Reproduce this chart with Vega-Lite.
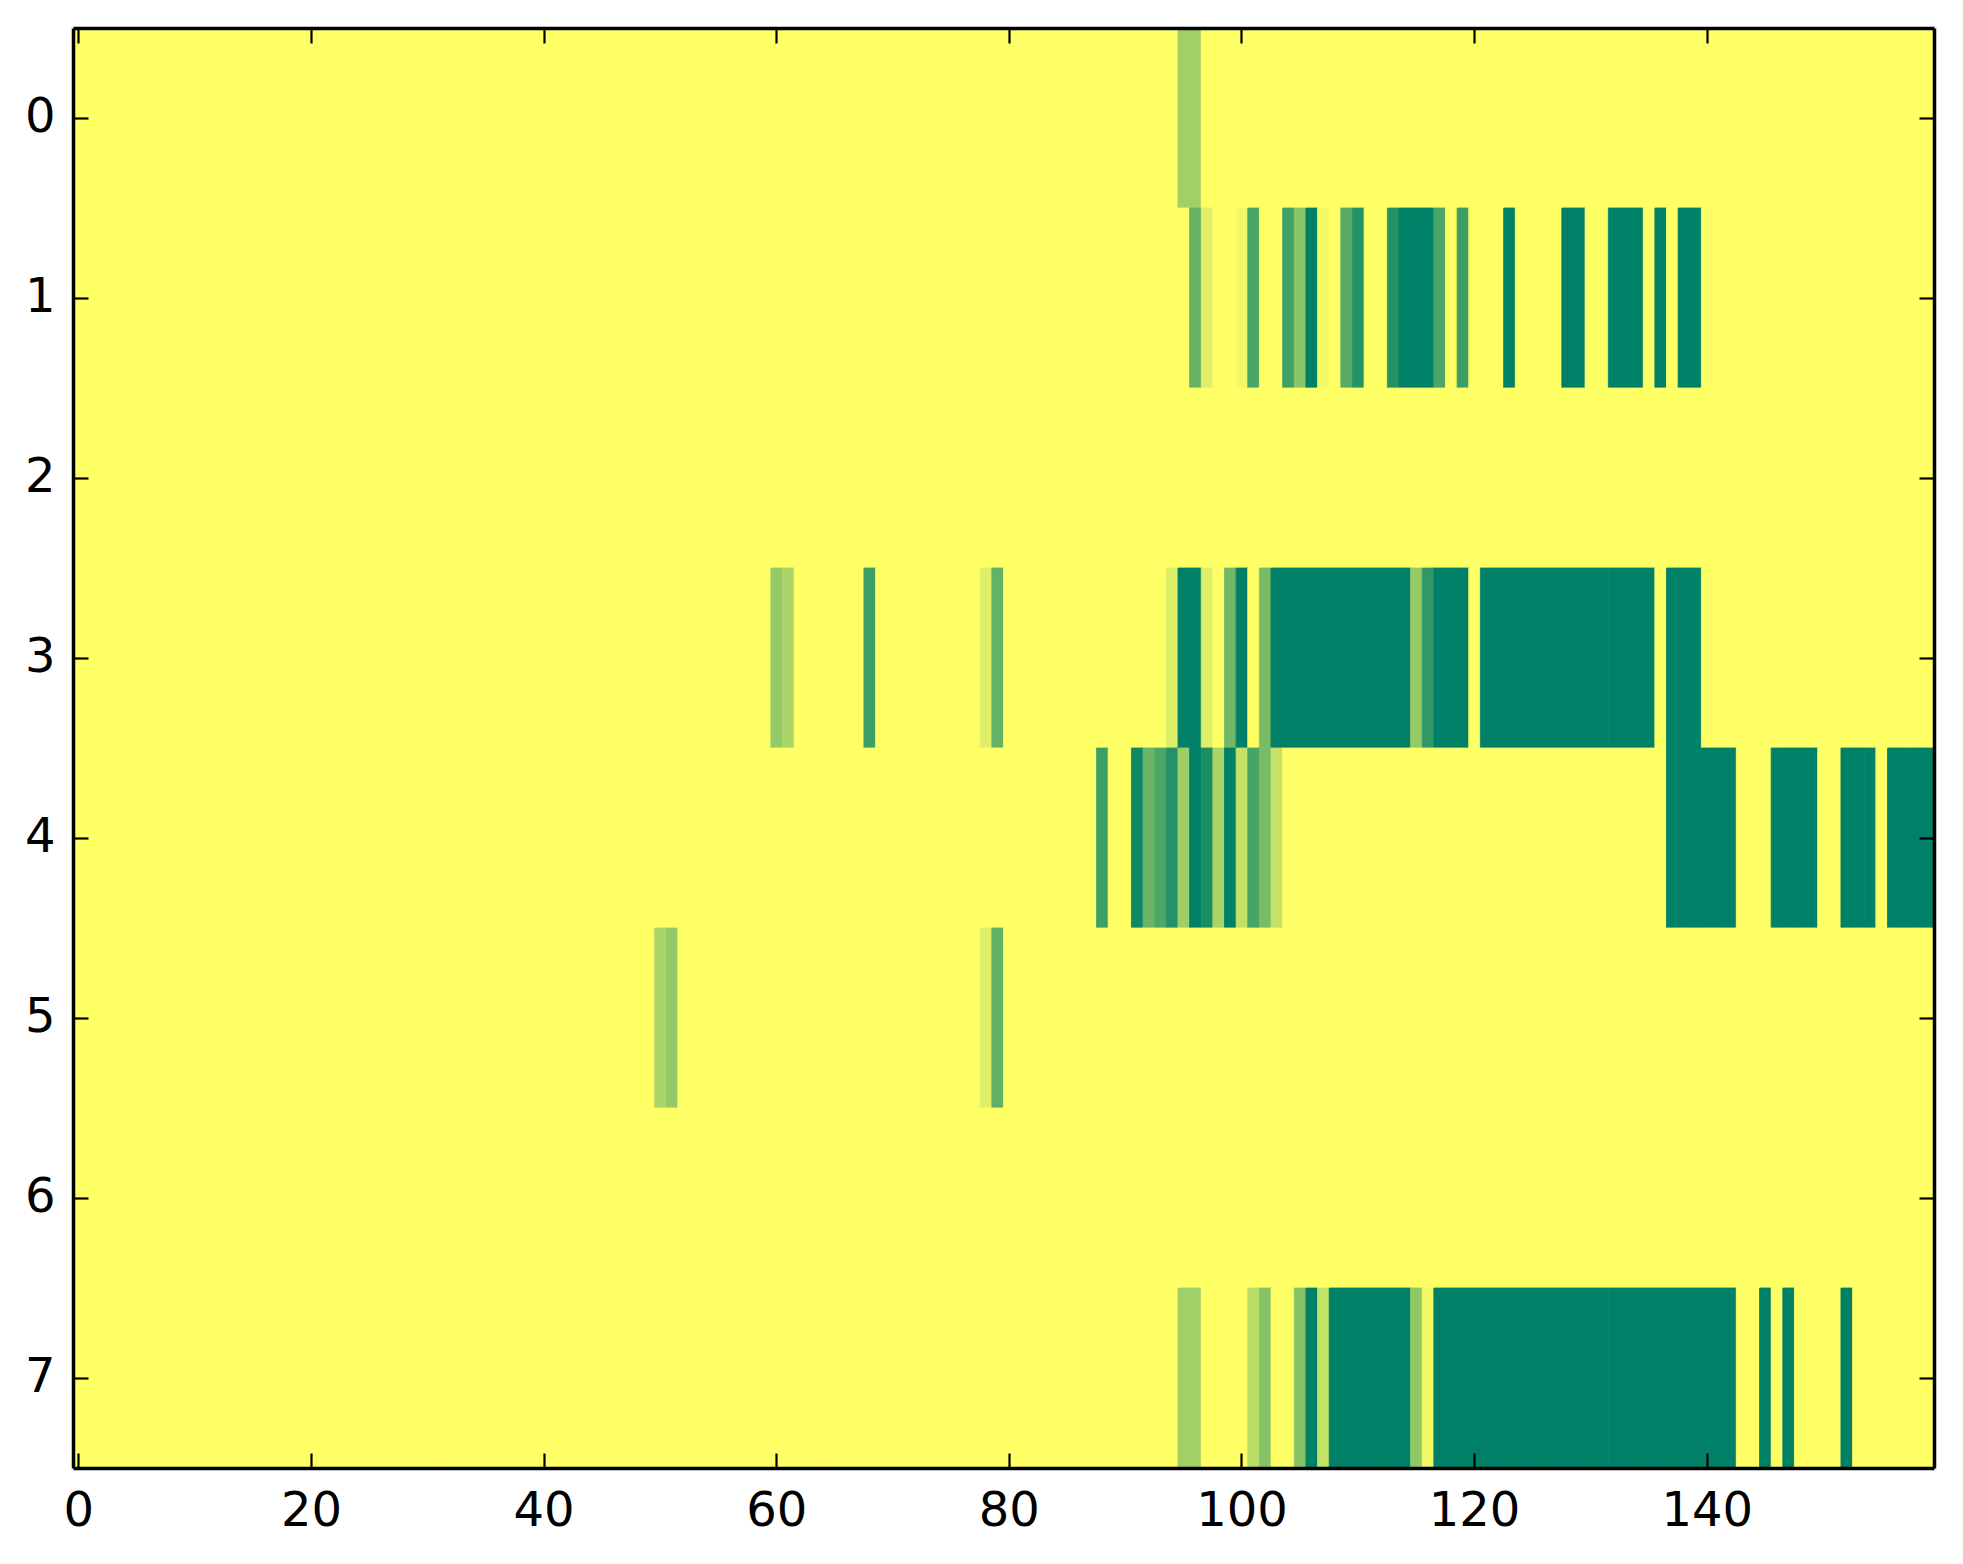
{
"$schema":"https://vega.github.io/schema/vega-lite/v6.json",
"width":1861,"height":1440,
"autosize":{"type":"none"},
"padding":{"left":73,"top":28,"right":29,"bottom":96},
"background":"white",
"config":{"font":"DejaVu Sans","view":{"stroke":null}},
"data":{"values":[
{"row":0,"col":0,"v":0},{"row":0,"col":1,"v":0},{"row":0,"col":2,"v":0},{"row":0,"col":3,"v":0},{"row":0,"col":4,"v":0},{"row":0,"col":5,"v":0},{"row":0,"col":6,"v":0},{"row":0,"col":7,"v":0},{"row":0,"col":8,"v":0},{"row":0,"col":9,"v":0},
{"row":0,"col":10,"v":0},{"row":0,"col":11,"v":0},{"row":0,"col":12,"v":0},{"row":0,"col":13,"v":0},{"row":0,"col":14,"v":0},{"row":0,"col":15,"v":0},{"row":0,"col":16,"v":0},{"row":0,"col":17,"v":0},{"row":0,"col":18,"v":0},{"row":0,"col":19,"v":0},
{"row":0,"col":20,"v":0},{"row":0,"col":21,"v":0},{"row":0,"col":22,"v":0},{"row":0,"col":23,"v":0},{"row":0,"col":24,"v":0},{"row":0,"col":25,"v":0},{"row":0,"col":26,"v":0},{"row":0,"col":27,"v":0},{"row":0,"col":28,"v":0},{"row":0,"col":29,"v":0},
{"row":0,"col":30,"v":0},{"row":0,"col":31,"v":0},{"row":0,"col":32,"v":0},{"row":0,"col":33,"v":0},{"row":0,"col":34,"v":0},{"row":0,"col":35,"v":0},{"row":0,"col":36,"v":0},{"row":0,"col":37,"v":0},{"row":0,"col":38,"v":0},{"row":0,"col":39,"v":0},
{"row":0,"col":40,"v":0},{"row":0,"col":41,"v":0},{"row":0,"col":42,"v":0},{"row":0,"col":43,"v":0},{"row":0,"col":44,"v":0},{"row":0,"col":45,"v":0},{"row":0,"col":46,"v":0},{"row":0,"col":47,"v":0},{"row":0,"col":48,"v":0},{"row":0,"col":49,"v":0},
{"row":0,"col":50,"v":0},{"row":0,"col":51,"v":0},{"row":0,"col":52,"v":0},{"row":0,"col":53,"v":0},{"row":0,"col":54,"v":0},{"row":0,"col":55,"v":0},{"row":0,"col":56,"v":0},{"row":0,"col":57,"v":0},{"row":0,"col":58,"v":0},{"row":0,"col":59,"v":0},
{"row":0,"col":60,"v":0},{"row":0,"col":61,"v":0},{"row":0,"col":62,"v":0},{"row":0,"col":63,"v":0},{"row":0,"col":64,"v":0},{"row":0,"col":65,"v":0},{"row":0,"col":66,"v":0},{"row":0,"col":67,"v":0},{"row":0,"col":68,"v":0},{"row":0,"col":69,"v":0},
{"row":0,"col":70,"v":0},{"row":0,"col":71,"v":0},{"row":0,"col":72,"v":0},{"row":0,"col":73,"v":0},{"row":0,"col":74,"v":0},{"row":0,"col":75,"v":0},{"row":0,"col":76,"v":0},{"row":0,"col":77,"v":0},{"row":0,"col":78,"v":0},{"row":0,"col":79,"v":0},
{"row":0,"col":80,"v":0},{"row":0,"col":81,"v":0},{"row":0,"col":82,"v":0},{"row":0,"col":83,"v":0},{"row":0,"col":84,"v":0},{"row":0,"col":85,"v":0},{"row":0,"col":86,"v":0},{"row":0,"col":87,"v":0},{"row":0,"col":88,"v":0},{"row":0,"col":89,"v":0},
{"row":0,"col":90,"v":0},{"row":0,"col":91,"v":0},{"row":0,"col":92,"v":0},{"row":0,"col":93,"v":0},{"row":0,"col":94,"v":0},{"row":0,"col":95,"v":0.37},{"row":0,"col":96,"v":0.37},{"row":0,"col":97,"v":0},{"row":0,"col":98,"v":0},{"row":0,"col":99,"v":0},
{"row":0,"col":100,"v":0},{"row":0,"col":101,"v":0},{"row":0,"col":102,"v":0},{"row":0,"col":103,"v":0},{"row":0,"col":104,"v":0},{"row":0,"col":105,"v":0},{"row":0,"col":106,"v":0},{"row":0,"col":107,"v":0},{"row":0,"col":108,"v":0},{"row":0,"col":109,"v":0},
{"row":0,"col":110,"v":0},{"row":0,"col":111,"v":0},{"row":0,"col":112,"v":0},{"row":0,"col":113,"v":0},{"row":0,"col":114,"v":0},{"row":0,"col":115,"v":0},{"row":0,"col":116,"v":0},{"row":0,"col":117,"v":0},{"row":0,"col":118,"v":0},{"row":0,"col":119,"v":0},
{"row":0,"col":120,"v":0},{"row":0,"col":121,"v":0},{"row":0,"col":122,"v":0},{"row":0,"col":123,"v":0},{"row":0,"col":124,"v":0},{"row":0,"col":125,"v":0},{"row":0,"col":126,"v":0},{"row":0,"col":127,"v":0},{"row":0,"col":128,"v":0},{"row":0,"col":129,"v":0},
{"row":0,"col":130,"v":0},{"row":0,"col":131,"v":0},{"row":0,"col":132,"v":0},{"row":0,"col":133,"v":0},{"row":0,"col":134,"v":0},{"row":0,"col":135,"v":0},{"row":0,"col":136,"v":0},{"row":0,"col":137,"v":0},{"row":0,"col":138,"v":0},{"row":0,"col":139,"v":0},
{"row":0,"col":140,"v":0},{"row":0,"col":141,"v":0},{"row":0,"col":142,"v":0},{"row":0,"col":143,"v":0},{"row":0,"col":144,"v":0},{"row":0,"col":145,"v":0},{"row":0,"col":146,"v":0},{"row":0,"col":147,"v":0},{"row":0,"col":148,"v":0},{"row":0,"col":149,"v":0},
{"row":0,"col":150,"v":0},{"row":0,"col":151,"v":0},{"row":0,"col":152,"v":0},{"row":0,"col":153,"v":0},{"row":0,"col":154,"v":0},{"row":0,"col":155,"v":0},{"row":0,"col":156,"v":0},{"row":0,"col":157,"v":0},{"row":0,"col":158,"v":0},{"row":0,"col":159,"v":0},
{"row":1,"col":0,"v":0},{"row":1,"col":1,"v":0},{"row":1,"col":2,"v":0},{"row":1,"col":3,"v":0},{"row":1,"col":4,"v":0},{"row":1,"col":5,"v":0},{"row":1,"col":6,"v":0},{"row":1,"col":7,"v":0},{"row":1,"col":8,"v":0},{"row":1,"col":9,"v":0},
{"row":1,"col":10,"v":0},{"row":1,"col":11,"v":0},{"row":1,"col":12,"v":0},{"row":1,"col":13,"v":0},{"row":1,"col":14,"v":0},{"row":1,"col":15,"v":0},{"row":1,"col":16,"v":0},{"row":1,"col":17,"v":0},{"row":1,"col":18,"v":0},{"row":1,"col":19,"v":0},
{"row":1,"col":20,"v":0},{"row":1,"col":21,"v":0},{"row":1,"col":22,"v":0},{"row":1,"col":23,"v":0},{"row":1,"col":24,"v":0},{"row":1,"col":25,"v":0},{"row":1,"col":26,"v":0},{"row":1,"col":27,"v":0},{"row":1,"col":28,"v":0},{"row":1,"col":29,"v":0},
{"row":1,"col":30,"v":0},{"row":1,"col":31,"v":0},{"row":1,"col":32,"v":0},{"row":1,"col":33,"v":0},{"row":1,"col":34,"v":0},{"row":1,"col":35,"v":0},{"row":1,"col":36,"v":0},{"row":1,"col":37,"v":0},{"row":1,"col":38,"v":0},{"row":1,"col":39,"v":0},
{"row":1,"col":40,"v":0},{"row":1,"col":41,"v":0},{"row":1,"col":42,"v":0},{"row":1,"col":43,"v":0},{"row":1,"col":44,"v":0},{"row":1,"col":45,"v":0},{"row":1,"col":46,"v":0},{"row":1,"col":47,"v":0},{"row":1,"col":48,"v":0},{"row":1,"col":49,"v":0},
{"row":1,"col":50,"v":0},{"row":1,"col":51,"v":0},{"row":1,"col":52,"v":0},{"row":1,"col":53,"v":0},{"row":1,"col":54,"v":0},{"row":1,"col":55,"v":0},{"row":1,"col":56,"v":0},{"row":1,"col":57,"v":0},{"row":1,"col":58,"v":0},{"row":1,"col":59,"v":0},
{"row":1,"col":60,"v":0},{"row":1,"col":61,"v":0},{"row":1,"col":62,"v":0},{"row":1,"col":63,"v":0},{"row":1,"col":64,"v":0},{"row":1,"col":65,"v":0},{"row":1,"col":66,"v":0},{"row":1,"col":67,"v":0},{"row":1,"col":68,"v":0},{"row":1,"col":69,"v":0},
{"row":1,"col":70,"v":0},{"row":1,"col":71,"v":0},{"row":1,"col":72,"v":0},{"row":1,"col":73,"v":0},{"row":1,"col":74,"v":0},{"row":1,"col":75,"v":0},{"row":1,"col":76,"v":0},{"row":1,"col":77,"v":0},{"row":1,"col":78,"v":0},{"row":1,"col":79,"v":0},
{"row":1,"col":80,"v":0},{"row":1,"col":81,"v":0},{"row":1,"col":82,"v":0},{"row":1,"col":83,"v":0},{"row":1,"col":84,"v":0},{"row":1,"col":85,"v":0},{"row":1,"col":86,"v":0},{"row":1,"col":87,"v":0},{"row":1,"col":88,"v":0},{"row":1,"col":89,"v":0},
{"row":1,"col":90,"v":0},{"row":1,"col":91,"v":0},{"row":1,"col":92,"v":0},{"row":1,"col":93,"v":0},{"row":1,"col":94,"v":0},{"row":1,"col":95,"v":0},{"row":1,"col":96,"v":0.61},{"row":1,"col":97,"v":0.13},{"row":1,"col":98,"v":0},{"row":1,"col":99,"v":0},
{"row":1,"col":100,"v":0.05},{"row":1,"col":101,"v":0.71},{"row":1,"col":102,"v":0},{"row":1,"col":103,"v":0},{"row":1,"col":104,"v":0.75},{"row":1,"col":105,"v":0.46},{"row":1,"col":106,"v":1},{"row":1,"col":107,"v":0.05},{"row":1,"col":108,"v":0},{"row":1,"col":109,"v":0.66},
{"row":1,"col":110,"v":0.85},{"row":1,"col":111,"v":0},{"row":1,"col":112,"v":0},{"row":1,"col":113,"v":0.86},{"row":1,"col":114,"v":1},{"row":1,"col":115,"v":1},{"row":1,"col":116,"v":1},{"row":1,"col":117,"v":0.71},{"row":1,"col":118,"v":0},{"row":1,"col":119,"v":0.76},
{"row":1,"col":120,"v":0},{"row":1,"col":121,"v":0},{"row":1,"col":122,"v":0},{"row":1,"col":123,"v":1},{"row":1,"col":124,"v":0},{"row":1,"col":125,"v":0},{"row":1,"col":126,"v":0},{"row":1,"col":127,"v":0},{"row":1,"col":128,"v":1},{"row":1,"col":129,"v":1},
{"row":1,"col":130,"v":0},{"row":1,"col":131,"v":0},{"row":1,"col":132,"v":1},{"row":1,"col":133,"v":1},{"row":1,"col":134,"v":1},{"row":1,"col":135,"v":0},{"row":1,"col":136,"v":1},{"row":1,"col":137,"v":0},{"row":1,"col":138,"v":1},{"row":1,"col":139,"v":1},
{"row":1,"col":140,"v":0},{"row":1,"col":141,"v":0},{"row":1,"col":142,"v":0},{"row":1,"col":143,"v":0},{"row":1,"col":144,"v":0},{"row":1,"col":145,"v":0},{"row":1,"col":146,"v":0},{"row":1,"col":147,"v":0},{"row":1,"col":148,"v":0},{"row":1,"col":149,"v":0},
{"row":1,"col":150,"v":0},{"row":1,"col":151,"v":0},{"row":1,"col":152,"v":0},{"row":1,"col":153,"v":0},{"row":1,"col":154,"v":0},{"row":1,"col":155,"v":0},{"row":1,"col":156,"v":0},{"row":1,"col":157,"v":0},{"row":1,"col":158,"v":0},{"row":1,"col":159,"v":0},
{"row":2,"col":0,"v":0},{"row":2,"col":1,"v":0},{"row":2,"col":2,"v":0},{"row":2,"col":3,"v":0},{"row":2,"col":4,"v":0},{"row":2,"col":5,"v":0},{"row":2,"col":6,"v":0},{"row":2,"col":7,"v":0},{"row":2,"col":8,"v":0},{"row":2,"col":9,"v":0},
{"row":2,"col":10,"v":0},{"row":2,"col":11,"v":0},{"row":2,"col":12,"v":0},{"row":2,"col":13,"v":0},{"row":2,"col":14,"v":0},{"row":2,"col":15,"v":0},{"row":2,"col":16,"v":0},{"row":2,"col":17,"v":0},{"row":2,"col":18,"v":0},{"row":2,"col":19,"v":0},
{"row":2,"col":20,"v":0},{"row":2,"col":21,"v":0},{"row":2,"col":22,"v":0},{"row":2,"col":23,"v":0},{"row":2,"col":24,"v":0},{"row":2,"col":25,"v":0},{"row":2,"col":26,"v":0},{"row":2,"col":27,"v":0},{"row":2,"col":28,"v":0},{"row":2,"col":29,"v":0},
{"row":2,"col":30,"v":0},{"row":2,"col":31,"v":0},{"row":2,"col":32,"v":0},{"row":2,"col":33,"v":0},{"row":2,"col":34,"v":0},{"row":2,"col":35,"v":0},{"row":2,"col":36,"v":0},{"row":2,"col":37,"v":0},{"row":2,"col":38,"v":0},{"row":2,"col":39,"v":0},
{"row":2,"col":40,"v":0},{"row":2,"col":41,"v":0},{"row":2,"col":42,"v":0},{"row":2,"col":43,"v":0},{"row":2,"col":44,"v":0},{"row":2,"col":45,"v":0},{"row":2,"col":46,"v":0},{"row":2,"col":47,"v":0},{"row":2,"col":48,"v":0},{"row":2,"col":49,"v":0},
{"row":2,"col":50,"v":0},{"row":2,"col":51,"v":0},{"row":2,"col":52,"v":0},{"row":2,"col":53,"v":0},{"row":2,"col":54,"v":0},{"row":2,"col":55,"v":0},{"row":2,"col":56,"v":0},{"row":2,"col":57,"v":0},{"row":2,"col":58,"v":0},{"row":2,"col":59,"v":0},
{"row":2,"col":60,"v":0},{"row":2,"col":61,"v":0},{"row":2,"col":62,"v":0},{"row":2,"col":63,"v":0},{"row":2,"col":64,"v":0},{"row":2,"col":65,"v":0},{"row":2,"col":66,"v":0},{"row":2,"col":67,"v":0},{"row":2,"col":68,"v":0},{"row":2,"col":69,"v":0},
{"row":2,"col":70,"v":0},{"row":2,"col":71,"v":0},{"row":2,"col":72,"v":0},{"row":2,"col":73,"v":0},{"row":2,"col":74,"v":0},{"row":2,"col":75,"v":0},{"row":2,"col":76,"v":0},{"row":2,"col":77,"v":0},{"row":2,"col":78,"v":0},{"row":2,"col":79,"v":0},
{"row":2,"col":80,"v":0},{"row":2,"col":81,"v":0},{"row":2,"col":82,"v":0},{"row":2,"col":83,"v":0},{"row":2,"col":84,"v":0},{"row":2,"col":85,"v":0},{"row":2,"col":86,"v":0},{"row":2,"col":87,"v":0},{"row":2,"col":88,"v":0},{"row":2,"col":89,"v":0},
{"row":2,"col":90,"v":0},{"row":2,"col":91,"v":0},{"row":2,"col":92,"v":0},{"row":2,"col":93,"v":0},{"row":2,"col":94,"v":0},{"row":2,"col":95,"v":0},{"row":2,"col":96,"v":0},{"row":2,"col":97,"v":0},{"row":2,"col":98,"v":0},{"row":2,"col":99,"v":0},
{"row":2,"col":100,"v":0},{"row":2,"col":101,"v":0},{"row":2,"col":102,"v":0},{"row":2,"col":103,"v":0},{"row":2,"col":104,"v":0},{"row":2,"col":105,"v":0},{"row":2,"col":106,"v":0},{"row":2,"col":107,"v":0},{"row":2,"col":108,"v":0},{"row":2,"col":109,"v":0},
{"row":2,"col":110,"v":0},{"row":2,"col":111,"v":0},{"row":2,"col":112,"v":0},{"row":2,"col":113,"v":0},{"row":2,"col":114,"v":0},{"row":2,"col":115,"v":0},{"row":2,"col":116,"v":0},{"row":2,"col":117,"v":0},{"row":2,"col":118,"v":0},{"row":2,"col":119,"v":0},
{"row":2,"col":120,"v":0},{"row":2,"col":121,"v":0},{"row":2,"col":122,"v":0},{"row":2,"col":123,"v":0},{"row":2,"col":124,"v":0},{"row":2,"col":125,"v":0},{"row":2,"col":126,"v":0},{"row":2,"col":127,"v":0},{"row":2,"col":128,"v":0},{"row":2,"col":129,"v":0},
{"row":2,"col":130,"v":0},{"row":2,"col":131,"v":0},{"row":2,"col":132,"v":0},{"row":2,"col":133,"v":0},{"row":2,"col":134,"v":0},{"row":2,"col":135,"v":0},{"row":2,"col":136,"v":0},{"row":2,"col":137,"v":0},{"row":2,"col":138,"v":0},{"row":2,"col":139,"v":0},
{"row":2,"col":140,"v":0},{"row":2,"col":141,"v":0},{"row":2,"col":142,"v":0},{"row":2,"col":143,"v":0},{"row":2,"col":144,"v":0},{"row":2,"col":145,"v":0},{"row":2,"col":146,"v":0},{"row":2,"col":147,"v":0},{"row":2,"col":148,"v":0},{"row":2,"col":149,"v":0},
{"row":2,"col":150,"v":0},{"row":2,"col":151,"v":0},{"row":2,"col":152,"v":0},{"row":2,"col":153,"v":0},{"row":2,"col":154,"v":0},{"row":2,"col":155,"v":0},{"row":2,"col":156,"v":0},{"row":2,"col":157,"v":0},{"row":2,"col":158,"v":0},{"row":2,"col":159,"v":0},
{"row":3,"col":0,"v":0},{"row":3,"col":1,"v":0},{"row":3,"col":2,"v":0},{"row":3,"col":3,"v":0},{"row":3,"col":4,"v":0},{"row":3,"col":5,"v":0},{"row":3,"col":6,"v":0},{"row":3,"col":7,"v":0},{"row":3,"col":8,"v":0},{"row":3,"col":9,"v":0},
{"row":3,"col":10,"v":0},{"row":3,"col":11,"v":0},{"row":3,"col":12,"v":0},{"row":3,"col":13,"v":0},{"row":3,"col":14,"v":0},{"row":3,"col":15,"v":0},{"row":3,"col":16,"v":0},{"row":3,"col":17,"v":0},{"row":3,"col":18,"v":0},{"row":3,"col":19,"v":0},
{"row":3,"col":20,"v":0},{"row":3,"col":21,"v":0},{"row":3,"col":22,"v":0},{"row":3,"col":23,"v":0},{"row":3,"col":24,"v":0},{"row":3,"col":25,"v":0},{"row":3,"col":26,"v":0},{"row":3,"col":27,"v":0},{"row":3,"col":28,"v":0},{"row":3,"col":29,"v":0},
{"row":3,"col":30,"v":0},{"row":3,"col":31,"v":0},{"row":3,"col":32,"v":0},{"row":3,"col":33,"v":0},{"row":3,"col":34,"v":0},{"row":3,"col":35,"v":0},{"row":3,"col":36,"v":0},{"row":3,"col":37,"v":0},{"row":3,"col":38,"v":0},{"row":3,"col":39,"v":0},
{"row":3,"col":40,"v":0},{"row":3,"col":41,"v":0},{"row":3,"col":42,"v":0},{"row":3,"col":43,"v":0},{"row":3,"col":44,"v":0},{"row":3,"col":45,"v":0},{"row":3,"col":46,"v":0},{"row":3,"col":47,"v":0},{"row":3,"col":48,"v":0},{"row":3,"col":49,"v":0},
{"row":3,"col":50,"v":0},{"row":3,"col":51,"v":0},{"row":3,"col":52,"v":0},{"row":3,"col":53,"v":0},{"row":3,"col":54,"v":0},{"row":3,"col":55,"v":0},{"row":3,"col":56,"v":0},{"row":3,"col":57,"v":0},{"row":3,"col":58,"v":0},{"row":3,"col":59,"v":0},
{"row":3,"col":60,"v":0.42},{"row":3,"col":61,"v":0.33},{"row":3,"col":62,"v":0},{"row":3,"col":63,"v":0},{"row":3,"col":64,"v":0},{"row":3,"col":65,"v":0},{"row":3,"col":66,"v":0},{"row":3,"col":67,"v":0},{"row":3,"col":68,"v":0.76},{"row":3,"col":69,"v":0},
{"row":3,"col":70,"v":0},{"row":3,"col":71,"v":0},{"row":3,"col":72,"v":0},{"row":3,"col":73,"v":0},{"row":3,"col":74,"v":0},{"row":3,"col":75,"v":0},{"row":3,"col":76,"v":0},{"row":3,"col":77,"v":0},{"row":3,"col":78,"v":0.13},{"row":3,"col":79,"v":0.61},
{"row":3,"col":80,"v":0},{"row":3,"col":81,"v":0},{"row":3,"col":82,"v":0},{"row":3,"col":83,"v":0},{"row":3,"col":84,"v":0},{"row":3,"col":85,"v":0},{"row":3,"col":86,"v":0},{"row":3,"col":87,"v":0},{"row":3,"col":88,"v":0},{"row":3,"col":89,"v":0},
{"row":3,"col":90,"v":0},{"row":3,"col":91,"v":0},{"row":3,"col":92,"v":0},{"row":3,"col":93,"v":0},{"row":3,"col":94,"v":0.13},{"row":3,"col":95,"v":1},{"row":3,"col":96,"v":1},{"row":3,"col":97,"v":0.13},{"row":3,"col":98,"v":0},{"row":3,"col":99,"v":0.56},
{"row":3,"col":100,"v":1},{"row":3,"col":101,"v":0},{"row":3,"col":102,"v":0.53},{"row":3,"col":103,"v":1},{"row":3,"col":104,"v":1},{"row":3,"col":105,"v":1},{"row":3,"col":106,"v":1},{"row":3,"col":107,"v":1},{"row":3,"col":108,"v":1},{"row":3,"col":109,"v":1},
{"row":3,"col":110,"v":1},{"row":3,"col":111,"v":1},{"row":3,"col":112,"v":1},{"row":3,"col":113,"v":1},{"row":3,"col":114,"v":1},{"row":3,"col":115,"v":0.42},{"row":3,"col":116,"v":0.81},{"row":3,"col":117,"v":1},{"row":3,"col":118,"v":1},{"row":3,"col":119,"v":1},
{"row":3,"col":120,"v":0},{"row":3,"col":121,"v":1},{"row":3,"col":122,"v":1},{"row":3,"col":123,"v":1},{"row":3,"col":124,"v":1},{"row":3,"col":125,"v":1},{"row":3,"col":126,"v":1},{"row":3,"col":127,"v":1},{"row":3,"col":128,"v":1},{"row":3,"col":129,"v":1},
{"row":3,"col":130,"v":1},{"row":3,"col":131,"v":1},{"row":3,"col":132,"v":1},{"row":3,"col":133,"v":1},{"row":3,"col":134,"v":1},{"row":3,"col":135,"v":1},{"row":3,"col":136,"v":0},{"row":3,"col":137,"v":1},{"row":3,"col":138,"v":1},{"row":3,"col":139,"v":1},
{"row":3,"col":140,"v":0},{"row":3,"col":141,"v":0},{"row":3,"col":142,"v":0},{"row":3,"col":143,"v":0},{"row":3,"col":144,"v":0},{"row":3,"col":145,"v":0},{"row":3,"col":146,"v":0},{"row":3,"col":147,"v":0},{"row":3,"col":148,"v":0},{"row":3,"col":149,"v":0},
{"row":3,"col":150,"v":0},{"row":3,"col":151,"v":0},{"row":3,"col":152,"v":0},{"row":3,"col":153,"v":0},{"row":3,"col":154,"v":0},{"row":3,"col":155,"v":0},{"row":3,"col":156,"v":0},{"row":3,"col":157,"v":0},{"row":3,"col":158,"v":0},{"row":3,"col":159,"v":0},
{"row":4,"col":0,"v":0},{"row":4,"col":1,"v":0},{"row":4,"col":2,"v":0},{"row":4,"col":3,"v":0},{"row":4,"col":4,"v":0},{"row":4,"col":5,"v":0},{"row":4,"col":6,"v":0},{"row":4,"col":7,"v":0},{"row":4,"col":8,"v":0},{"row":4,"col":9,"v":0},
{"row":4,"col":10,"v":0},{"row":4,"col":11,"v":0},{"row":4,"col":12,"v":0},{"row":4,"col":13,"v":0},{"row":4,"col":14,"v":0},{"row":4,"col":15,"v":0},{"row":4,"col":16,"v":0},{"row":4,"col":17,"v":0},{"row":4,"col":18,"v":0},{"row":4,"col":19,"v":0},
{"row":4,"col":20,"v":0},{"row":4,"col":21,"v":0},{"row":4,"col":22,"v":0},{"row":4,"col":23,"v":0},{"row":4,"col":24,"v":0},{"row":4,"col":25,"v":0},{"row":4,"col":26,"v":0},{"row":4,"col":27,"v":0},{"row":4,"col":28,"v":0},{"row":4,"col":29,"v":0},
{"row":4,"col":30,"v":0},{"row":4,"col":31,"v":0},{"row":4,"col":32,"v":0},{"row":4,"col":33,"v":0},{"row":4,"col":34,"v":0},{"row":4,"col":35,"v":0},{"row":4,"col":36,"v":0},{"row":4,"col":37,"v":0},{"row":4,"col":38,"v":0},{"row":4,"col":39,"v":0},
{"row":4,"col":40,"v":0},{"row":4,"col":41,"v":0},{"row":4,"col":42,"v":0},{"row":4,"col":43,"v":0},{"row":4,"col":44,"v":0},{"row":4,"col":45,"v":0},{"row":4,"col":46,"v":0},{"row":4,"col":47,"v":0},{"row":4,"col":48,"v":0},{"row":4,"col":49,"v":0},
{"row":4,"col":50,"v":0},{"row":4,"col":51,"v":0},{"row":4,"col":52,"v":0},{"row":4,"col":53,"v":0},{"row":4,"col":54,"v":0},{"row":4,"col":55,"v":0},{"row":4,"col":56,"v":0},{"row":4,"col":57,"v":0},{"row":4,"col":58,"v":0},{"row":4,"col":59,"v":0},
{"row":4,"col":60,"v":0},{"row":4,"col":61,"v":0},{"row":4,"col":62,"v":0},{"row":4,"col":63,"v":0},{"row":4,"col":64,"v":0},{"row":4,"col":65,"v":0},{"row":4,"col":66,"v":0},{"row":4,"col":67,"v":0},{"row":4,"col":68,"v":0},{"row":4,"col":69,"v":0},
{"row":4,"col":70,"v":0},{"row":4,"col":71,"v":0},{"row":4,"col":72,"v":0},{"row":4,"col":73,"v":0},{"row":4,"col":74,"v":0},{"row":4,"col":75,"v":0},{"row":4,"col":76,"v":0},{"row":4,"col":77,"v":0},{"row":4,"col":78,"v":0},{"row":4,"col":79,"v":0},
{"row":4,"col":80,"v":0},{"row":4,"col":81,"v":0},{"row":4,"col":82,"v":0},{"row":4,"col":83,"v":0},{"row":4,"col":84,"v":0},{"row":4,"col":85,"v":0},{"row":4,"col":86,"v":0},{"row":4,"col":87,"v":0},{"row":4,"col":88,"v":0.76},{"row":4,"col":89,"v":0},
{"row":4,"col":90,"v":0},{"row":4,"col":91,"v":0.94},{"row":4,"col":92,"v":0.58},{"row":4,"col":93,"v":0.69},{"row":4,"col":94,"v":0.86},{"row":4,"col":95,"v":0.38},{"row":4,"col":96,"v":1},{"row":4,"col":97,"v":0.9},{"row":4,"col":98,"v":0.33},{"row":4,"col":99,"v":1},
{"row":4,"col":100,"v":0.24},{"row":4,"col":101,"v":0.72},{"row":4,"col":102,"v":0.53},{"row":4,"col":103,"v":0.23},{"row":4,"col":104,"v":0},{"row":4,"col":105,"v":0},{"row":4,"col":106,"v":0},{"row":4,"col":107,"v":0},{"row":4,"col":108,"v":0},{"row":4,"col":109,"v":0},
{"row":4,"col":110,"v":0},{"row":4,"col":111,"v":0},{"row":4,"col":112,"v":0},{"row":4,"col":113,"v":0},{"row":4,"col":114,"v":0},{"row":4,"col":115,"v":0},{"row":4,"col":116,"v":0},{"row":4,"col":117,"v":0},{"row":4,"col":118,"v":0},{"row":4,"col":119,"v":0},
{"row":4,"col":120,"v":0},{"row":4,"col":121,"v":0},{"row":4,"col":122,"v":0},{"row":4,"col":123,"v":0},{"row":4,"col":124,"v":0},{"row":4,"col":125,"v":0},{"row":4,"col":126,"v":0},{"row":4,"col":127,"v":0},{"row":4,"col":128,"v":0},{"row":4,"col":129,"v":0},
{"row":4,"col":130,"v":0},{"row":4,"col":131,"v":0},{"row":4,"col":132,"v":0},{"row":4,"col":133,"v":0},{"row":4,"col":134,"v":0},{"row":4,"col":135,"v":0},{"row":4,"col":136,"v":0},{"row":4,"col":137,"v":1},{"row":4,"col":138,"v":1},{"row":4,"col":139,"v":1},
{"row":4,"col":140,"v":1},{"row":4,"col":141,"v":1},{"row":4,"col":142,"v":1},{"row":4,"col":143,"v":0},{"row":4,"col":144,"v":0},{"row":4,"col":145,"v":0},{"row":4,"col":146,"v":1},{"row":4,"col":147,"v":1},{"row":4,"col":148,"v":1},{"row":4,"col":149,"v":1},
{"row":4,"col":150,"v":0},{"row":4,"col":151,"v":0},{"row":4,"col":152,"v":1},{"row":4,"col":153,"v":1},{"row":4,"col":154,"v":1},{"row":4,"col":155,"v":0},{"row":4,"col":156,"v":1},{"row":4,"col":157,"v":1},{"row":4,"col":158,"v":1},{"row":4,"col":159,"v":1},
{"row":5,"col":0,"v":0},{"row":5,"col":1,"v":0},{"row":5,"col":2,"v":0},{"row":5,"col":3,"v":0},{"row":5,"col":4,"v":0},{"row":5,"col":5,"v":0},{"row":5,"col":6,"v":0},{"row":5,"col":7,"v":0},{"row":5,"col":8,"v":0},{"row":5,"col":9,"v":0},
{"row":5,"col":10,"v":0},{"row":5,"col":11,"v":0},{"row":5,"col":12,"v":0},{"row":5,"col":13,"v":0},{"row":5,"col":14,"v":0},{"row":5,"col":15,"v":0},{"row":5,"col":16,"v":0},{"row":5,"col":17,"v":0},{"row":5,"col":18,"v":0},{"row":5,"col":19,"v":0},
{"row":5,"col":20,"v":0},{"row":5,"col":21,"v":0},{"row":5,"col":22,"v":0},{"row":5,"col":23,"v":0},{"row":5,"col":24,"v":0},{"row":5,"col":25,"v":0},{"row":5,"col":26,"v":0},{"row":5,"col":27,"v":0},{"row":5,"col":28,"v":0},{"row":5,"col":29,"v":0},
{"row":5,"col":30,"v":0},{"row":5,"col":31,"v":0},{"row":5,"col":32,"v":0},{"row":5,"col":33,"v":0},{"row":5,"col":34,"v":0},{"row":5,"col":35,"v":0},{"row":5,"col":36,"v":0},{"row":5,"col":37,"v":0},{"row":5,"col":38,"v":0},{"row":5,"col":39,"v":0},
{"row":5,"col":40,"v":0},{"row":5,"col":41,"v":0},{"row":5,"col":42,"v":0},{"row":5,"col":43,"v":0},{"row":5,"col":44,"v":0},{"row":5,"col":45,"v":0},{"row":5,"col":46,"v":0},{"row":5,"col":47,"v":0},{"row":5,"col":48,"v":0},{"row":5,"col":49,"v":0},
{"row":5,"col":50,"v":0.33},{"row":5,"col":51,"v":0.42},{"row":5,"col":52,"v":0},{"row":5,"col":53,"v":0},{"row":5,"col":54,"v":0},{"row":5,"col":55,"v":0},{"row":5,"col":56,"v":0},{"row":5,"col":57,"v":0},{"row":5,"col":58,"v":0},{"row":5,"col":59,"v":0},
{"row":5,"col":60,"v":0},{"row":5,"col":61,"v":0},{"row":5,"col":62,"v":0},{"row":5,"col":63,"v":0},{"row":5,"col":64,"v":0},{"row":5,"col":65,"v":0},{"row":5,"col":66,"v":0},{"row":5,"col":67,"v":0},{"row":5,"col":68,"v":0},{"row":5,"col":69,"v":0},
{"row":5,"col":70,"v":0},{"row":5,"col":71,"v":0},{"row":5,"col":72,"v":0},{"row":5,"col":73,"v":0},{"row":5,"col":74,"v":0},{"row":5,"col":75,"v":0},{"row":5,"col":76,"v":0},{"row":5,"col":77,"v":0},{"row":5,"col":78,"v":0.13},{"row":5,"col":79,"v":0.62},
{"row":5,"col":80,"v":0},{"row":5,"col":81,"v":0},{"row":5,"col":82,"v":0},{"row":5,"col":83,"v":0},{"row":5,"col":84,"v":0},{"row":5,"col":85,"v":0},{"row":5,"col":86,"v":0},{"row":5,"col":87,"v":0},{"row":5,"col":88,"v":0},{"row":5,"col":89,"v":0},
{"row":5,"col":90,"v":0},{"row":5,"col":91,"v":0},{"row":5,"col":92,"v":0},{"row":5,"col":93,"v":0},{"row":5,"col":94,"v":0},{"row":5,"col":95,"v":0},{"row":5,"col":96,"v":0},{"row":5,"col":97,"v":0},{"row":5,"col":98,"v":0},{"row":5,"col":99,"v":0},
{"row":5,"col":100,"v":0},{"row":5,"col":101,"v":0},{"row":5,"col":102,"v":0},{"row":5,"col":103,"v":0},{"row":5,"col":104,"v":0},{"row":5,"col":105,"v":0},{"row":5,"col":106,"v":0},{"row":5,"col":107,"v":0},{"row":5,"col":108,"v":0},{"row":5,"col":109,"v":0},
{"row":5,"col":110,"v":0},{"row":5,"col":111,"v":0},{"row":5,"col":112,"v":0},{"row":5,"col":113,"v":0},{"row":5,"col":114,"v":0},{"row":5,"col":115,"v":0},{"row":5,"col":116,"v":0},{"row":5,"col":117,"v":0},{"row":5,"col":118,"v":0},{"row":5,"col":119,"v":0},
{"row":5,"col":120,"v":0},{"row":5,"col":121,"v":0},{"row":5,"col":122,"v":0},{"row":5,"col":123,"v":0},{"row":5,"col":124,"v":0},{"row":5,"col":125,"v":0},{"row":5,"col":126,"v":0},{"row":5,"col":127,"v":0},{"row":5,"col":128,"v":0},{"row":5,"col":129,"v":0},
{"row":5,"col":130,"v":0},{"row":5,"col":131,"v":0},{"row":5,"col":132,"v":0},{"row":5,"col":133,"v":0},{"row":5,"col":134,"v":0},{"row":5,"col":135,"v":0},{"row":5,"col":136,"v":0},{"row":5,"col":137,"v":0},{"row":5,"col":138,"v":0},{"row":5,"col":139,"v":0},
{"row":5,"col":140,"v":0},{"row":5,"col":141,"v":0},{"row":5,"col":142,"v":0},{"row":5,"col":143,"v":0},{"row":5,"col":144,"v":0},{"row":5,"col":145,"v":0},{"row":5,"col":146,"v":0},{"row":5,"col":147,"v":0},{"row":5,"col":148,"v":0},{"row":5,"col":149,"v":0},
{"row":5,"col":150,"v":0},{"row":5,"col":151,"v":0},{"row":5,"col":152,"v":0},{"row":5,"col":153,"v":0},{"row":5,"col":154,"v":0},{"row":5,"col":155,"v":0},{"row":5,"col":156,"v":0},{"row":5,"col":157,"v":0},{"row":5,"col":158,"v":0},{"row":5,"col":159,"v":0},
{"row":6,"col":0,"v":0},{"row":6,"col":1,"v":0},{"row":6,"col":2,"v":0},{"row":6,"col":3,"v":0},{"row":6,"col":4,"v":0},{"row":6,"col":5,"v":0},{"row":6,"col":6,"v":0},{"row":6,"col":7,"v":0},{"row":6,"col":8,"v":0},{"row":6,"col":9,"v":0},
{"row":6,"col":10,"v":0},{"row":6,"col":11,"v":0},{"row":6,"col":12,"v":0},{"row":6,"col":13,"v":0},{"row":6,"col":14,"v":0},{"row":6,"col":15,"v":0},{"row":6,"col":16,"v":0},{"row":6,"col":17,"v":0},{"row":6,"col":18,"v":0},{"row":6,"col":19,"v":0},
{"row":6,"col":20,"v":0},{"row":6,"col":21,"v":0},{"row":6,"col":22,"v":0},{"row":6,"col":23,"v":0},{"row":6,"col":24,"v":0},{"row":6,"col":25,"v":0},{"row":6,"col":26,"v":0},{"row":6,"col":27,"v":0},{"row":6,"col":28,"v":0},{"row":6,"col":29,"v":0},
{"row":6,"col":30,"v":0},{"row":6,"col":31,"v":0},{"row":6,"col":32,"v":0},{"row":6,"col":33,"v":0},{"row":6,"col":34,"v":0},{"row":6,"col":35,"v":0},{"row":6,"col":36,"v":0},{"row":6,"col":37,"v":0},{"row":6,"col":38,"v":0},{"row":6,"col":39,"v":0},
{"row":6,"col":40,"v":0},{"row":6,"col":41,"v":0},{"row":6,"col":42,"v":0},{"row":6,"col":43,"v":0},{"row":6,"col":44,"v":0},{"row":6,"col":45,"v":0},{"row":6,"col":46,"v":0},{"row":6,"col":47,"v":0},{"row":6,"col":48,"v":0},{"row":6,"col":49,"v":0},
{"row":6,"col":50,"v":0},{"row":6,"col":51,"v":0},{"row":6,"col":52,"v":0},{"row":6,"col":53,"v":0},{"row":6,"col":54,"v":0},{"row":6,"col":55,"v":0},{"row":6,"col":56,"v":0},{"row":6,"col":57,"v":0},{"row":6,"col":58,"v":0},{"row":6,"col":59,"v":0},
{"row":6,"col":60,"v":0},{"row":6,"col":61,"v":0},{"row":6,"col":62,"v":0},{"row":6,"col":63,"v":0},{"row":6,"col":64,"v":0},{"row":6,"col":65,"v":0},{"row":6,"col":66,"v":0},{"row":6,"col":67,"v":0},{"row":6,"col":68,"v":0},{"row":6,"col":69,"v":0},
{"row":6,"col":70,"v":0},{"row":6,"col":71,"v":0},{"row":6,"col":72,"v":0},{"row":6,"col":73,"v":0},{"row":6,"col":74,"v":0},{"row":6,"col":75,"v":0},{"row":6,"col":76,"v":0},{"row":6,"col":77,"v":0},{"row":6,"col":78,"v":0},{"row":6,"col":79,"v":0},
{"row":6,"col":80,"v":0},{"row":6,"col":81,"v":0},{"row":6,"col":82,"v":0},{"row":6,"col":83,"v":0},{"row":6,"col":84,"v":0},{"row":6,"col":85,"v":0},{"row":6,"col":86,"v":0},{"row":6,"col":87,"v":0},{"row":6,"col":88,"v":0},{"row":6,"col":89,"v":0},
{"row":6,"col":90,"v":0},{"row":6,"col":91,"v":0},{"row":6,"col":92,"v":0},{"row":6,"col":93,"v":0},{"row":6,"col":94,"v":0},{"row":6,"col":95,"v":0},{"row":6,"col":96,"v":0},{"row":6,"col":97,"v":0},{"row":6,"col":98,"v":0},{"row":6,"col":99,"v":0},
{"row":6,"col":100,"v":0},{"row":6,"col":101,"v":0},{"row":6,"col":102,"v":0},{"row":6,"col":103,"v":0},{"row":6,"col":104,"v":0},{"row":6,"col":105,"v":0},{"row":6,"col":106,"v":0},{"row":6,"col":107,"v":0},{"row":6,"col":108,"v":0},{"row":6,"col":109,"v":0},
{"row":6,"col":110,"v":0},{"row":6,"col":111,"v":0},{"row":6,"col":112,"v":0},{"row":6,"col":113,"v":0},{"row":6,"col":114,"v":0},{"row":6,"col":115,"v":0},{"row":6,"col":116,"v":0},{"row":6,"col":117,"v":0},{"row":6,"col":118,"v":0},{"row":6,"col":119,"v":0},
{"row":6,"col":120,"v":0},{"row":6,"col":121,"v":0},{"row":6,"col":122,"v":0},{"row":6,"col":123,"v":0},{"row":6,"col":124,"v":0},{"row":6,"col":125,"v":0},{"row":6,"col":126,"v":0},{"row":6,"col":127,"v":0},{"row":6,"col":128,"v":0},{"row":6,"col":129,"v":0},
{"row":6,"col":130,"v":0},{"row":6,"col":131,"v":0},{"row":6,"col":132,"v":0},{"row":6,"col":133,"v":0},{"row":6,"col":134,"v":0},{"row":6,"col":135,"v":0},{"row":6,"col":136,"v":0},{"row":6,"col":137,"v":0},{"row":6,"col":138,"v":0},{"row":6,"col":139,"v":0},
{"row":6,"col":140,"v":0},{"row":6,"col":141,"v":0},{"row":6,"col":142,"v":0},{"row":6,"col":143,"v":0},{"row":6,"col":144,"v":0},{"row":6,"col":145,"v":0},{"row":6,"col":146,"v":0},{"row":6,"col":147,"v":0},{"row":6,"col":148,"v":0},{"row":6,"col":149,"v":0},
{"row":6,"col":150,"v":0},{"row":6,"col":151,"v":0},{"row":6,"col":152,"v":0},{"row":6,"col":153,"v":0},{"row":6,"col":154,"v":0},{"row":6,"col":155,"v":0},{"row":6,"col":156,"v":0},{"row":6,"col":157,"v":0},{"row":6,"col":158,"v":0},{"row":6,"col":159,"v":0},
{"row":7,"col":0,"v":0},{"row":7,"col":1,"v":0},{"row":7,"col":2,"v":0},{"row":7,"col":3,"v":0},{"row":7,"col":4,"v":0},{"row":7,"col":5,"v":0},{"row":7,"col":6,"v":0},{"row":7,"col":7,"v":0},{"row":7,"col":8,"v":0},{"row":7,"col":9,"v":0},
{"row":7,"col":10,"v":0},{"row":7,"col":11,"v":0},{"row":7,"col":12,"v":0},{"row":7,"col":13,"v":0},{"row":7,"col":14,"v":0},{"row":7,"col":15,"v":0},{"row":7,"col":16,"v":0},{"row":7,"col":17,"v":0},{"row":7,"col":18,"v":0},{"row":7,"col":19,"v":0},
{"row":7,"col":20,"v":0},{"row":7,"col":21,"v":0},{"row":7,"col":22,"v":0},{"row":7,"col":23,"v":0},{"row":7,"col":24,"v":0},{"row":7,"col":25,"v":0},{"row":7,"col":26,"v":0},{"row":7,"col":27,"v":0},{"row":7,"col":28,"v":0},{"row":7,"col":29,"v":0},
{"row":7,"col":30,"v":0},{"row":7,"col":31,"v":0},{"row":7,"col":32,"v":0},{"row":7,"col":33,"v":0},{"row":7,"col":34,"v":0},{"row":7,"col":35,"v":0},{"row":7,"col":36,"v":0},{"row":7,"col":37,"v":0},{"row":7,"col":38,"v":0},{"row":7,"col":39,"v":0},
{"row":7,"col":40,"v":0},{"row":7,"col":41,"v":0},{"row":7,"col":42,"v":0},{"row":7,"col":43,"v":0},{"row":7,"col":44,"v":0},{"row":7,"col":45,"v":0},{"row":7,"col":46,"v":0},{"row":7,"col":47,"v":0},{"row":7,"col":48,"v":0},{"row":7,"col":49,"v":0},
{"row":7,"col":50,"v":0},{"row":7,"col":51,"v":0},{"row":7,"col":52,"v":0},{"row":7,"col":53,"v":0},{"row":7,"col":54,"v":0},{"row":7,"col":55,"v":0},{"row":7,"col":56,"v":0},{"row":7,"col":57,"v":0},{"row":7,"col":58,"v":0},{"row":7,"col":59,"v":0},
{"row":7,"col":60,"v":0},{"row":7,"col":61,"v":0},{"row":7,"col":62,"v":0},{"row":7,"col":63,"v":0},{"row":7,"col":64,"v":0},{"row":7,"col":65,"v":0},{"row":7,"col":66,"v":0},{"row":7,"col":67,"v":0},{"row":7,"col":68,"v":0},{"row":7,"col":69,"v":0},
{"row":7,"col":70,"v":0},{"row":7,"col":71,"v":0},{"row":7,"col":72,"v":0},{"row":7,"col":73,"v":0},{"row":7,"col":74,"v":0},{"row":7,"col":75,"v":0},{"row":7,"col":76,"v":0},{"row":7,"col":77,"v":0},{"row":7,"col":78,"v":0},{"row":7,"col":79,"v":0},
{"row":7,"col":80,"v":0},{"row":7,"col":81,"v":0},{"row":7,"col":82,"v":0},{"row":7,"col":83,"v":0},{"row":7,"col":84,"v":0},{"row":7,"col":85,"v":0},{"row":7,"col":86,"v":0},{"row":7,"col":87,"v":0},{"row":7,"col":88,"v":0},{"row":7,"col":89,"v":0},
{"row":7,"col":90,"v":0},{"row":7,"col":91,"v":0},{"row":7,"col":92,"v":0},{"row":7,"col":93,"v":0},{"row":7,"col":94,"v":0},{"row":7,"col":95,"v":0.37},{"row":7,"col":96,"v":0.37},{"row":7,"col":97,"v":0},{"row":7,"col":98,"v":0},{"row":7,"col":99,"v":0},
{"row":7,"col":100,"v":0},{"row":7,"col":101,"v":0.27},{"row":7,"col":102,"v":0.47},{"row":7,"col":103,"v":0},{"row":7,"col":104,"v":0},{"row":7,"col":105,"v":0.47},{"row":7,"col":106,"v":1},{"row":7,"col":107,"v":0.23},{"row":7,"col":108,"v":1},{"row":7,"col":109,"v":1},
{"row":7,"col":110,"v":1},{"row":7,"col":111,"v":1},{"row":7,"col":112,"v":1},{"row":7,"col":113,"v":1},{"row":7,"col":114,"v":1},{"row":7,"col":115,"v":0.43},{"row":7,"col":116,"v":0.05},{"row":7,"col":117,"v":1},{"row":7,"col":118,"v":1},{"row":7,"col":119,"v":1},
{"row":7,"col":120,"v":1},{"row":7,"col":121,"v":1},{"row":7,"col":122,"v":1},{"row":7,"col":123,"v":1},{"row":7,"col":124,"v":1},{"row":7,"col":125,"v":1},{"row":7,"col":126,"v":1},{"row":7,"col":127,"v":1},{"row":7,"col":128,"v":1},{"row":7,"col":129,"v":1},
{"row":7,"col":130,"v":1},{"row":7,"col":131,"v":1},{"row":7,"col":132,"v":1},{"row":7,"col":133,"v":1},{"row":7,"col":134,"v":1},{"row":7,"col":135,"v":1},{"row":7,"col":136,"v":1},{"row":7,"col":137,"v":1},{"row":7,"col":138,"v":1},{"row":7,"col":139,"v":1},
{"row":7,"col":140,"v":1},{"row":7,"col":141,"v":1},{"row":7,"col":142,"v":1},{"row":7,"col":143,"v":0},{"row":7,"col":144,"v":0},{"row":7,"col":145,"v":1},{"row":7,"col":146,"v":0},{"row":7,"col":147,"v":1},{"row":7,"col":148,"v":0},{"row":7,"col":149,"v":0},
{"row":7,"col":150,"v":0},{"row":7,"col":151,"v":0},{"row":7,"col":152,"v":1},{"row":7,"col":153,"v":0},{"row":7,"col":154,"v":0},{"row":7,"col":155,"v":0},{"row":7,"col":156,"v":0},{"row":7,"col":157,"v":0},{"row":7,"col":158,"v":0},{"row":7,"col":159,"v":0}
]},
"layer":[
{"mark":{"type":"rect","strokeWidth":0.8},
"encoding":{
"x":{"field":"col","type":"ordinal","sort":"ascending","scale":{"paddingInner":0,"paddingOuter":0},
"axis":{"orient":"bottom","title":null,"values":[0,20,40,60,80,100,120,140],"labelAngle":0,"labelFontSize":48,"labelColor":"black","labelPadding":34,"tickSize":-15,"tickWidth":2.2,"tickColor":"black","domainColor":"black","domainWidth":3.5,"zindex":1}},
"y":{"field":"row","type":"ordinal","sort":"ascending","scale":{"paddingInner":0,"paddingOuter":0},
"axis":{"orient":"left","title":null,"labelFontSize":48,"labelColor":"black","labelPadding":33,"tickSize":-15,"tickWidth":2.2,"tickColor":"black","domainColor":"black","domainWidth":3.5,"zindex":1}},
"color":{"field":"v","type":"quantitative","scale":{"domain":[0,1],"range":["#ffff66","#008066"],"interpolate":"rgb"},"legend":null},
"stroke":{"field":"v","type":"quantitative","scale":{"domain":[0,1],"range":["#ffff66","#008066"],"interpolate":"rgb"},"legend":null}
}},
{"mark":{"type":"rect","opacity":0},
"encoding":{
"x":{"field":"col","type":"ordinal","sort":"ascending","scale":{"paddingInner":0,"paddingOuter":0},
"axis":{"orient":"top","title":null,"values":[0,20,40,60,80,100,120,140],"labels":false,"tickSize":-15,"tickWidth":2.2,"tickColor":"black","domainColor":"black","domainWidth":3.5,"zindex":1}},
"y":{"field":"row","type":"ordinal","sort":"ascending","scale":{"paddingInner":0,"paddingOuter":0},
"axis":{"orient":"right","title":null,"labels":false,"tickSize":-15,"tickWidth":2.2,"tickColor":"black","domainColor":"black","domainWidth":3.5,"zindex":1}}
}}
],
"resolve":{"axis":{"x":"independent","y":"independent"}}
}
